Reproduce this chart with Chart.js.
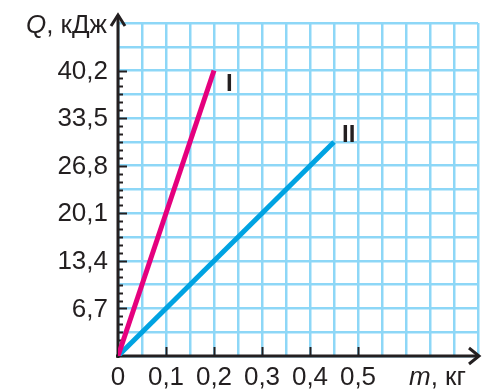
<!DOCTYPE html>
<html lang="ru">
	<head>
		<meta charset="utf-8">
		<title>Q(m)</title>
		<style>
			body {
				margin: 0;
				background-color: #FFF;
			}
		</style>
		<script src="https://cdn.jsdelivr.net/npm/chart.js"></script>
	</head>
	<body>
		<canvas id="chart" width="487" height="391"></canvas>
		<script>
			// data
			const massI = [0, 0.2];
			const heatI = [0, 40.2];
			const massII = [0, 0.45];
			const heatII = [0, 30.15];

			const xTickValues = [0, 0.1, 0.2, 0.3, 0.4, 0.5];
			const xTickLabels = ["0", "0,1", "0,2", "0,3", "0,4", "0,5"];
			const yTickValues = [6.7, 13.4, 20.1, 26.8, 33.5, 40.2];
			const yTickLabels = ["6,7", "13,4", "20,1", "26,8", "33,5", "40,2"];

			const xGridCount = 15; // cells of 0,05 up to 0,75
			const yGridCount = 14; // cells of 3,35 up to 46,9
			const ink = "#231f20";
			const font = "\"Liberation Sans\", Arial, sans-serif";

			const axesPlugin = {
				id: "axes",
				beforeDatasetsDraw(chart) {
					const ctx = chart.ctx;
					const a = chart.chartArea;
					const xs = chart.scales.x;
					const ys = chart.scales.y;
					const x0 = xs.getPixelForValue(0);
					const y0 = ys.getPixelForValue(0);
					ctx.save();
					ctx.strokeStyle = ink;
					ctx.lineWidth = 3;
					ctx.lineCap = "butt";
					// y axis with arrow
					ctx.beginPath();
					ctx.moveTo(x0, y0 + 2);
					ctx.lineTo(x0, a.top - 8);
					ctx.stroke();
					ctx.beginPath();
					ctx.moveTo(x0 - 7, a.top + 3);
					ctx.lineTo(x0, a.top - 8);
					ctx.lineTo(x0 + 7, a.top + 3);
					ctx.stroke();
					// x axis with arrow
					ctx.beginPath();
					ctx.moveTo(x0 - 2, y0);
					ctx.lineTo(a.right + 1, y0);
					ctx.stroke();
					ctx.beginPath();
					ctx.moveTo(a.right - 9, y0 - 8);
					ctx.lineTo(a.right + 1, y0);
					ctx.lineTo(a.right - 9, y0 + 8);
					ctx.stroke();
					// y ticks, 6 per major step
					ctx.lineWidth = 2;
					const minor = yTickValues[0] / 6;
					for (let i = 1; i <= 36; i++) {
						const py = Math.round(ys.getPixelForValue(i * minor)) + 0.5;
						ctx.beginPath();
						ctx.moveTo(x0, py);
						ctx.lineTo(x0 + (i % 6 == 0 ? 9 : 5), py);
						ctx.stroke();
					}
					// x ticks
					xTickValues.forEach(v => {
						if (v == 0) return;
						const px = Math.round(xs.getPixelForValue(v)) + 0.5;
						ctx.beginPath();
						ctx.moveTo(px, y0);
						ctx.lineTo(px, y0 - 9);
						ctx.stroke();
					});
					// tick labels
					ctx.fillStyle = ink;
					ctx.font = "26px " + font;
					ctx.textAlign = "right";
					ctx.textBaseline = "middle";
					yTickValues.forEach((v, i) => {
						ctx.fillText(yTickLabels[i], x0 - 10, ys.getPixelForValue(v) + 1);
					});
					ctx.textAlign = "center";
					xTickValues.forEach((v, i) => {
						ctx.fillText(xTickLabels[i], xs.getPixelForValue(v), y0 + 22);
					});
					// axis titles
					ctx.textBaseline = "alphabetic";
					ctx.textAlign = "left";
					ctx.font = "26px " + font;
					const rest = ", кДж";
					const restW = ctx.measureText(rest).width;
					ctx.font = "italic 26px " + font;
					const qW = ctx.measureText("Q").width;
					let tx = x0 - 11 - restW - qW;
					ctx.fillText("Q", tx, 33);
					ctx.font = "26px " + font;
					ctx.fillText(rest, tx + qW, 33);
					ctx.font = "italic 26px " + font;
					ctx.fillText("m", 409, y0 + 29);
					const mW = ctx.measureText("m").width;
					ctx.font = "26px " + font;
					ctx.fillText(", кг", 409 + mW, y0 + 29);
					ctx.restore();
				},
				afterDatasetsDraw(chart) {
					const ctx = chart.ctx;
					const xs = chart.scales.x;
					const ys = chart.scales.y;
					ctx.save();
					ctx.fillStyle = ink;
					ctx.font = "bold 24px " + font;
					ctx.textBaseline = "alphabetic";
					ctx.textAlign = "left";
					ctx.fillText("I", xs.getPixelForValue(massI[1]) + 12, ys.getPixelForValue(heatI[1]) + 20);
					ctx.fillText("II", xs.getPixelForValue(massII[1]) + 8, ys.getPixelForValue(heatII[1]) + 0);
					ctx.restore();
				}
			};

			const config = {
				type: "scatter",
				data: {
					datasets: [{
						label: "I",
						data: massI.map((m, i) => ({ x: m, y: heatI[i] })),
						borderColor: "#e5007e",
						borderWidth: 5,
						showLine: true,
						pointRadius: 0
					},{
						label: "II",
						data: massII.map((m, i) => ({ x: m, y: heatII[i] })),
						borderColor: "#00a3e2",
						borderWidth: 5,
						showLine: true,
						pointRadius: 0
					}]
				},
				options: {
					responsive: false,
					animation: false,
					layout: {
						padding: { left: 118, top: 23, right: 9, bottom: 35 }
					},
					plugins: {
						legend: { display: false },
						tooltip: { enabled: false }
					},
					scales: {
						x: {
							type: "linear",
							min: 0,
							max: 0.75,
							afterBuildTicks: scale => {
								scale.ticks = [];
								for (let i = 0; i <= xGridCount; i++) scale.ticks.push({ value: i * 0.05 });
							},
							ticks: { display: false },
							border: { display: false },
							grid: { color: "#8dd7f7", lineWidth: 2.5, drawTicks: false }
						},
						y: {
							type: "linear",
							min: 0,
							max: 46.9,
							afterBuildTicks: scale => {
								scale.ticks = [];
								for (let i = 0; i <= yGridCount; i++) scale.ticks.push({ value: i * 3.35 });
							},
							ticks: { display: false },
							border: { display: false },
							grid: { color: "#8dd7f7", lineWidth: 2.5, drawTicks: false }
						}
					}
				},
				plugins: [axesPlugin]
			};

			new Chart(document.getElementById("chart"), config);
		</script>
	</body>
</html>
